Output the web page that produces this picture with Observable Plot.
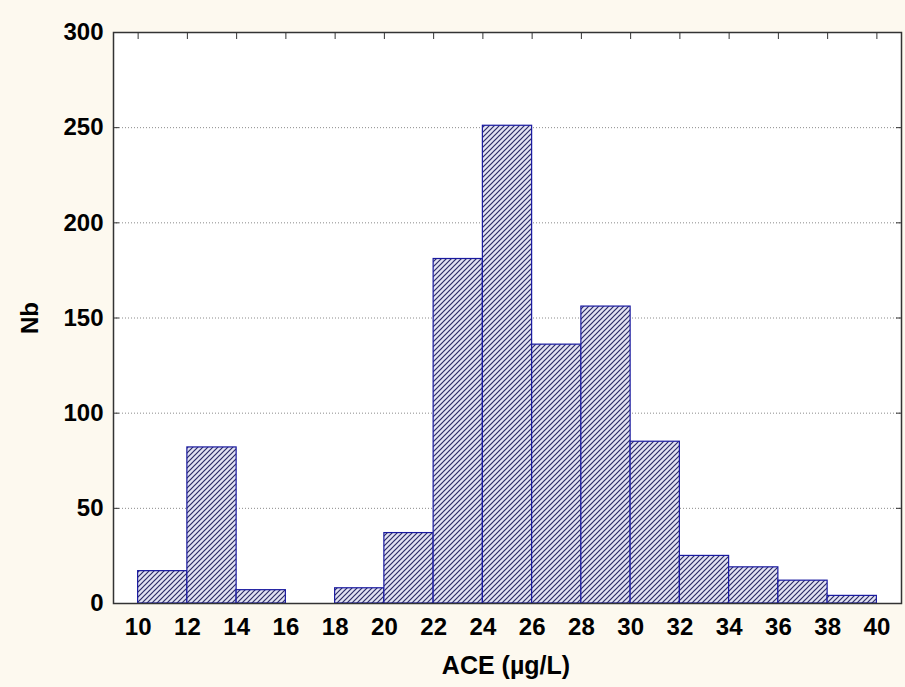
<!DOCTYPE html>
<html>
<head>
<meta charset="utf-8">
<script src="https://cdn.jsdelivr.net/npm/d3@7"></script>
<script src="https://cdn.jsdelivr.net/npm/@observablehq/plot@0.6"></script>
<style>
  html, body { margin: 0; padding: 0; background: #fdf9ef; }
  #chart { width: 905px; height: 687px; }
</style>
</head>
<body>
<div id="chart"></div>
<script>
const binEdges = [10,12,14,16,18,20,22,24,26,28,30,32,34,36,38,40];
const counts   = [17,82,7,0,8,37,181,251,136,156,85,25,19,12,4];
const yTicks = [0,50,100,150,200,250,300];
const gridTicks = [50,100,150,200,250];
const xLabel = "ACE (µg/L)";
const yLabel = "Nb";

const bins = counts.map((c, i) => ({x1: binEdges[i], x2: binEdges[i+1], n: c})).filter(d => d.n > 0);

const font = "'Liberation Sans', Arial, sans-serif";

const plot = Plot.plot({
  width: 905,
  height: 687,
  marginLeft: 113,
  marginRight: 4,
  marginTop: 32,
  marginBottom: 84,
  style: {background: "transparent", fontFamily: font, fontWeight: "bold", color: "#000"},
  x: {domain: [9, 41]},
  y: {domain: [0, 300]},
  marks: [
    Plot.frame({fill: "white", stroke: "none"}),
    Plot.gridY(gridTicks, {stroke: "#8a8a8a", strokeOpacity: 1, strokeDasharray: "1,2"}),
    Plot.rectY(bins, {x1: "x1", x2: "x2", y: "n", fill: "url(#hatch)", stroke: "#1a1aa0", strokeWidth: 1.2}),
    Plot.frame({stroke: "#333", strokeWidth: 1.5}),
    // labels
    Plot.axisX(binEdges, {anchor: "bottom", tickSize: 0, tickPadding: 14, fontSize: 24, label: null, fill: "#000"}),
    Plot.axisY(yTicks, {anchor: "left", tickSize: 0, tickPadding: 10, fontSize: 24, label: null, fill: "#000"}),
    // inward ticks
    Plot.axisX(binEdges, {anchor: "top", tickSize: 6, dy: 6, tickFormat: () => "", label: null, stroke: "#333"}),
    Plot.axisY(yTicks, {anchor: "left", tickSize: 6, dx: 6, tickFormat: () => "", label: null, stroke: "#333"}),
    Plot.axisY(yTicks, {anchor: "right", tickSize: 6, dx: -6, tickFormat: () => "", label: null, stroke: "#333"})
  ]
});

// hatch pattern
const ns = "http://www.w3.org/2000/svg";
const defs = document.createElementNS(ns, "defs");
defs.innerHTML = `<pattern id="hatch" patternUnits="userSpaceOnUse" width="5" height="5">
  <rect width="5" height="5" fill="#e2e2f2"></rect>
  <path d="M-1,1 l2,-2 M0,5 l5,-5 M4,6 l2,-2" stroke="#2c2c66" stroke-width="1.2"></path>
</pattern>`;
plot.insertBefore(defs, plot.firstChild);

// axis titles
const svg = d3.select(plot);
svg.append("text")
  .attr("x", 506).attr("y", 674)
  .attr("text-anchor", "middle")
  .attr("font-size", 25).attr("font-weight", "bold").attr("font-family", font)
  .attr("fill", "#000")
  .text(xLabel);
svg.append("text")
  .attr("transform", "translate(38,318) rotate(-90)")
  .attr("text-anchor", "middle")
  .attr("font-size", 24).attr("font-weight", "bold").attr("font-family", font)
  .attr("fill", "#000")
  .text(yLabel);

document.getElementById("chart").appendChild(plot);
</script>
</body>
</html>
